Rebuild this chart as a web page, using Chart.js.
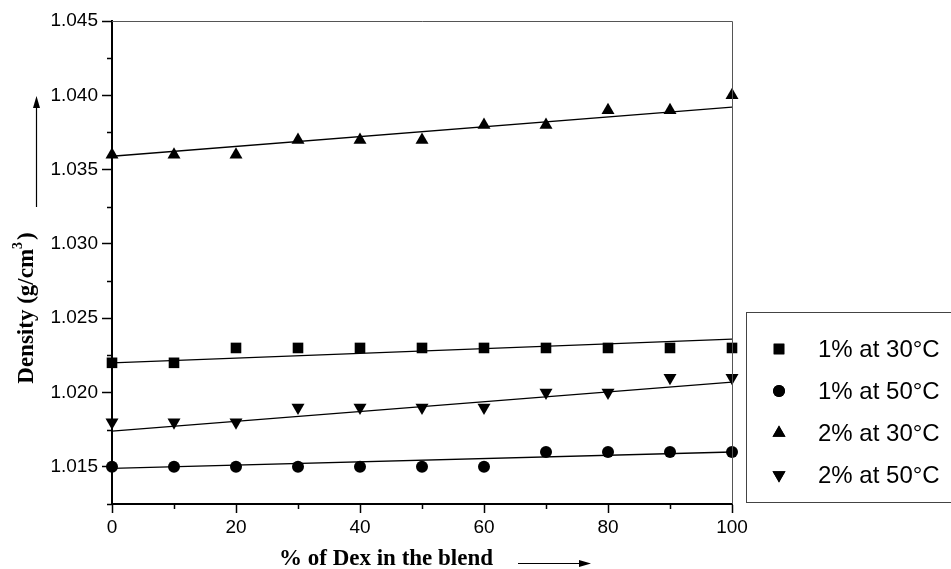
<!DOCTYPE html>
<html>
<head>
<meta charset="utf-8">
<script src="https://cdn.jsdelivr.net/npm/chart.js@4"></script>
<style>
  html, body { margin: 0; padding: 0; background: #fff; }
  #wrap { width: 951px; height: 569px; }
</style>
</head>
<body>
<div id="wrap"><canvas id="chart" width="951" height="569"></canvas></div>
<script>
// % of Dex in the blend
const dexPercent = [0, 10, 20, 30, 40, 50, 60, 70, 80, 90, 100]

// density readings (g/cm3)
const onePct30 = [1.022, 1.022, 1.023, 1.023, 1.023, 1.023, 1.023, 1.023, 1.023, 1.023, 1.023]
const onePct50 = [1.015, 1.015, 1.015, 1.015, 1.015, 1.015, 1.015, 1.016, 1.016, 1.016, 1.016]
const twoPct30 = [1.036, 1.036, 1.036, 1.037, 1.037, 1.037, 1.038, 1.038, 1.039, 1.039, 1.040]
const twoPct50 = [1.018, 1.018, 1.018, 1.019, 1.019, 1.019, 1.019, 1.020, 1.020, 1.021, 1.021]

// fitted straight lines, read at both ends
const fitX = [0, 100]
const fit1at30 = [1.0220, 1.0236]
const fit1at50 = [1.0149, 1.0160]
const fit2at30 = [1.0359, 1.0392]
const fit2at50 = [1.0174, 1.0207]

const seriesLabels = ['1% at 30°C', '1% at 50°C', '2% at 30°C', '2% at 50°C']
const xTitle = '% of Dex in the blend'
const yTitle = 'Density (g/cm'

const toPoints = (xs, ys) => xs.map((x, i) => ({ x: x, y: ys[i] }))

const markerSet = (label, values, style, radius, rotation = 0) => {
    return {
        label: label,
        data: toPoints(dexPercent, values),
        showLine: false,
        pointStyle: style,
        pointRadius: radius,
        pointHoverRadius: radius,
        pointRotation: rotation,
        pointBackgroundColor: '#000',
        pointBorderColor: '#000',
        pointBorderWidth: 0,
        clip: false,
        order: 2
    }
}

const fitSet = (values) => {
    return {
        label: 'fit',
        data: toPoints(fitX, values),
        showLine: true,
        borderColor: '#000',
        borderWidth: 1.3,
        pointRadius: 0,
        fill: false,
        clip: false,
        order: 1
    }
}

const isMajor = (v, step) => Math.abs(Math.round(v / step) * step - v) < 1e-7

const frame = {
    id: 'frame',
    afterDraw(chart) {
        const { ctx, chartArea: a, scales } = chart
        const x = scales.x
        const y = scales.y
        ctx.save()

        // top and right frame lines
        ctx.strokeStyle = '#555'
        ctx.lineWidth = 1
        ctx.beginPath()
        ctx.moveTo(a.left, a.top + 0.5)
        ctx.lineTo(a.right + 0.5, a.top + 0.5)
        ctx.lineTo(a.right + 0.5, a.bottom)
        ctx.stroke()

        // minor ticks
        ctx.strokeStyle = '#000'
        ctx.lineWidth = 1.5
        ctx.beginPath()
        x.ticks.forEach(t => {
            if (isMajor(t.value, 20)) return
            const px = Math.round(x.getPixelForValue(t.value)) + 0.5
            ctx.moveTo(px, a.bottom)
            ctx.lineTo(px, a.bottom + 5)
        })
        y.ticks.forEach(t => {
            if (isMajor(t.value, 0.005)) return
            const py = Math.round(y.getPixelForValue(t.value)) + 0.5
            ctx.moveTo(a.left, py)
            ctx.lineTo(a.left - 5, py)
        })
        ctx.stroke()

        // axis titles
        ctx.fillStyle = '#000'
        ctx.font = 'bold 23px "Liberation Serif", "Times New Roman", serif'
        ctx.textBaseline = 'alphabetic'
        ctx.textAlign = 'center'
        ctx.fillText(xTitle, 386, 565)

        // x arrow
        ctx.lineWidth = 1.2
        ctx.beginPath()
        ctx.moveTo(518, 563.5)
        ctx.lineTo(582, 563.5)
        ctx.stroke()
        ctx.beginPath()
        ctx.moveTo(591, 563.5)
        ctx.lineTo(579, 560)
        ctx.lineTo(579, 567)
        ctx.closePath()
        ctx.fill()

        // y title, rotated
        ctx.save()
        ctx.translate(33, 308)
        ctx.rotate(-Math.PI / 2)
        ctx.font = 'bold 23px "Liberation Serif", "Times New Roman", serif'
        const mainW = ctx.measureText(yTitle).width
        ctx.font = 'bold 14px "Liberation Serif", "Times New Roman", serif'
        const supW = ctx.measureText('3').width
        ctx.font = 'bold 23px "Liberation Serif", "Times New Roman", serif'
        const closeW = ctx.measureText(')').width
        const total = mainW + supW + 2 + closeW
        let cx = -total / 2
        ctx.textAlign = 'left'
        ctx.fillText(yTitle, cx, 0)
        cx += mainW
        ctx.font = 'bold 14px "Liberation Serif", "Times New Roman", serif'
        ctx.fillText('3', cx, -11)
        cx += supW + 2
        ctx.font = 'bold 23px "Liberation Serif", "Times New Roman", serif'
        ctx.fillText(')', cx, 0)
        ctx.restore()

        // y arrow
        ctx.lineWidth = 1.2
        ctx.beginPath()
        ctx.moveTo(36.5, 207)
        ctx.lineTo(36.5, 106)
        ctx.stroke()
        ctx.beginPath()
        ctx.moveTo(36.5, 96)
        ctx.lineTo(33, 108)
        ctx.lineTo(40, 108)
        ctx.closePath()
        ctx.fill()

        // legend box
        ctx.strokeStyle = '#444'
        ctx.lineWidth = 1
        ctx.strokeRect(746.5, 312.5, 220, 190)
        const markers = chart.data.datasets.filter(d => d.label !== 'fit')
        ctx.font = '24px "Liberation Sans", Arial, sans-serif'
        ctx.textAlign = 'left'
        ctx.textBaseline = 'middle'
        markers.forEach((d, i) => {
            const ly = 349 + i * 42
            Chart.helpers.drawPoint(ctx, {
                pointStyle: d.pointStyle,
                radius: d.pointRadius,
                rotation: d.pointRotation,
                borderWidth: 0
            }, 779, ly)
            ctx.fillStyle = '#000'
            ctx.fill()
            ctx.fillText(d.label, 818, ly + 1)
        })

        ctx.restore()
    }
}

const tickFont = { family: '"Liberation Sans", Arial, sans-serif', size: 19 }

new Chart(document.getElementById('chart'), {
    type: 'scatter',
    data: {
        datasets: [
            markerSet(seriesLabels[0], onePct30, 'rect', 7.5),
            markerSet(seriesLabels[1], onePct50, 'circle', 6),
            markerSet(seriesLabels[2], twoPct30, 'triangle', 7.5),
            markerSet(seriesLabels[3], twoPct50, 'triangle', 7.5, 180),
            fitSet(fit1at30),
            fitSet(fit1at50),
            fitSet(fit2at30),
            fitSet(fit2at50)
        ]
    },
    options: {
        responsive: false,
        animation: false,
        events: [],
        layout: { padding: { left: 0, top: 21, right: 219, bottom: 0 } },
        plugins: {
            legend: { display: false },
            tooltip: { enabled: false }
        },
        scales: {
            x: {
                type: 'linear',
                min: 0,
                max: 100,
                afterFit: (scale) => { scale.height = 65 },
                border: { display: true, color: '#000', width: 2 },
                grid: {
                    display: true,
                    drawOnChartArea: false,
                    drawTicks: true,
                    tickLength: 9,
                    tickWidth: 1.5,
                    tickColor: (c) => isMajor(c.tick.value, 20) ? '#000' : 'rgba(0,0,0,0)'
                },
                ticks: {
                    stepSize: 10,
                    autoSkip: false,
                    maxRotation: 0,
                    padding: 3,
                    color: '#000',
                    font: tickFont,
                    callback: (v) => isMajor(v, 20) ? String(v) : ''
                }
            },
            y: {
                type: 'linear',
                min: 1.0125,
                max: 1.045,
                afterFit: (scale) => { scale.width = 112 },
                border: { display: true, color: '#000', width: 2 },
                grid: {
                    display: true,
                    drawOnChartArea: false,
                    drawTicks: true,
                    tickLength: 10,
                    tickWidth: 1.5,
                    tickColor: (c) => isMajor(c.tick.value, 0.005) ? '#000' : 'rgba(0,0,0,0)'
                },
                ticks: {
                    stepSize: 0.0025,
                    autoSkip: false,
                    padding: 4,
                    color: '#000',
                    font: tickFont,
                    callback: (v) => isMajor(v, 0.005) ? v.toFixed(3) : ''
                }
            }
        }
    },
    plugins: [frame]
})
</script>
</body>
</html>
